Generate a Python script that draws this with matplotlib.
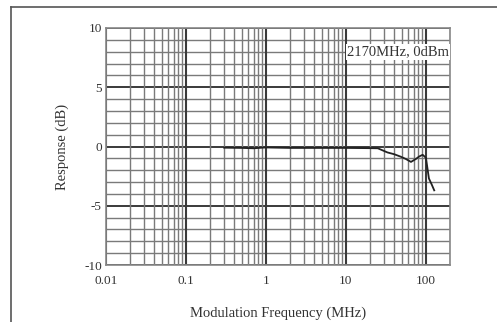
import numpy as np
import matplotlib
matplotlib.use("Agg")
import matplotlib.pyplot as plt
from matplotlib.lines import Line2D

# modulation frequency (MHz) and response (dB)
freq = [0.3, 0.5, 0.7, 1, 2, 5, 10, 20, 25, 33, 40, 48, 56, 65, 75, 82, 91, 100, 109, 118, 127]
resp = [-0.1, -0.12, -0.15, -0.08, -0.12, -0.12, -0.12, -0.14, -0.15, -0.5, -0.65, -0.85, -1.05, -1.3, -1.05, -0.85, -0.7, -0.95, -2.7, -3.2, -3.7]

xticks = [0.01, 0.1, 1, 10, 100]
xlabels = ["0.01", "0.1", "1", "10", "100"]
yticks = [-10, -5, 0, 5, 10]

plt.rcParams['font.family'] = ['Liberation Serif', 'DejaVu Serif']
plt.rcParams['axes.unicode_minus'] = False

fig = plt.figure(figsize=(4.97, 3.22), dpi=100)
ax = fig.add_axes([106/497, 1 - 265/322, 344/497, 237/322])

ax.set_xscale('log')
ax.set_xlim(0.01, 200)
ax.set_ylim(-10, 10)

# grid: every dB and every log step
for v in range(-10, 11):
    lw = 1.4 if v % 5 == 0 else 1.0
    c = '#3a3a3a' if v % 5 == 0 else '#7a7a7a'
    ax.axhline(v, color=c, lw=lw, zorder=1)
for dec in [0.01, 0.1, 1, 10, 100]:
    for k in range(1, 10):
        x = dec * k
        if x > 200:
            break
        lw = 1.5 if k == 1 else 1.0
        c = '#3a3a3a' if k == 1 else '#7a7a7a'
        ax.axvline(x, color=c, lw=lw, zorder=1)

ax.plot(freq, resp, color='#222222', lw=1.3, zorder=3)

ax.set_xticks(xticks)
ax.set_xticklabels(xlabels)
ax.set_yticks(yticks)
ax.minorticks_off()
ax.tick_params(length=0, labelsize=9.5, colors='#333333')
ax.tick_params(axis='x', pad=7)
ax.tick_params(axis='y', pad=3)
for s in ax.spines.values():
    s.set_color('#888888')
    s.set_linewidth(1.2)

ax.set_ylabel("Response (dB)", fontsize=10.5, color='#333333', labelpad=11)
ax.set_xlabel("Modulation Frequency (MHz)", fontsize=10.5, color='#333333', labelpad=14)

ax.text(0.997, 0.9, "2170MHz, 0dBm", transform=ax.transAxes, ha='right', va='center',
        fontsize=10.5, color='#333333', zorder=5,
        bbox=dict(facecolor='white', edgecolor='none', pad=1.0))

# outer frame, cut off at right and bottom
fig.add_artist(Line2D([11/497, 1], [1 - 7/322, 1 - 7/322], color='#555555', lw=1.2))
fig.add_artist(Line2D([11/497, 11/497], [0, 1 - 7/322], color='#555555', lw=1.2))

fig.savefig("out.png", dpi=100)
